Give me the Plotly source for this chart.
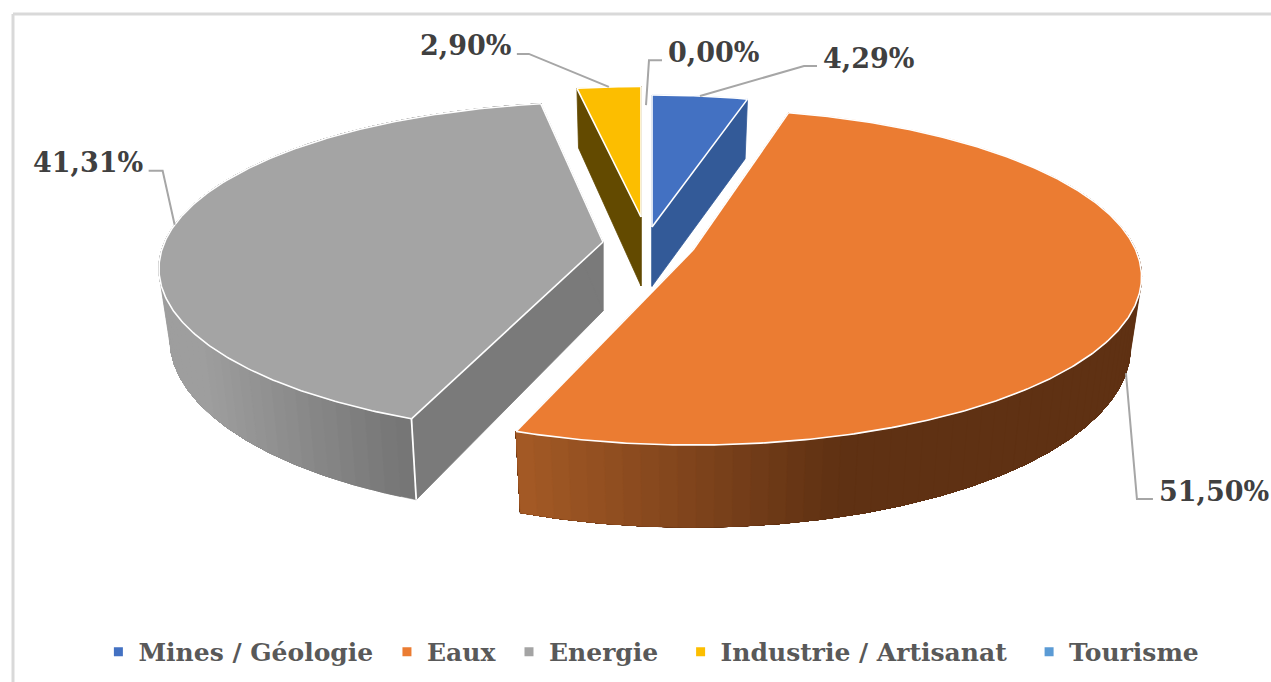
import math
import plotly.graph_objects as go

categories = ["Mines / Géologie", "Eaux", "Energie", "Industrie / Artisanat", "Tourisme"]
shares = [4.29, 51.50, 41.31, 2.90, 0.00]
labels = ["4,29%", "51,50%", "41,31%", "2,90%", "0,00%"]

top_colors = ["#4371c2", "#eb7c32", "#a4a4a4", "#fcbe00", "#5b9bd5"]
cut_colors = ["#335a98", "#8a4a1c", "#7a7a7a", "#634a00", "#3c6d9a"]
wall_near = [(51, 90, 152), (166, 91, 38), (118, 118, 118), (99, 74, 0), (60, 109, 154)]
wall_far = [(51, 90, 152), (95, 49, 19), (158, 158, 158), (99, 74, 0), (60, 109, 154)]
legend_pad = [1, 1, 2, 2, 0]   # non-breaking spaces after a legend entry

# Projection of the tilted pie onto the page (page pixels on the hidden axes)
W, H = 1271, 682
R, PERSP, TILT, DEPTH, TAPER = 445.0, 0.16, 0.37, 0.155, 0.975
apex = [(652, 227), (693, 250), (603, 242), (641, 217), (646, 240)]
twist = [0.0, -1.0, 1.0, 0.0, 0.0]      # degrees, per slice
scale = [0.93, 0.995, 0.985, 0.92, 0.95]    # radius, per slice
serif = "DejaVu Serif"
gray_text = "#404040"


def project(i, t, z=0.0):
    t = t + math.radians(twist[i])
    X, Y = math.sin(t), -math.cos(t)
    w = R / (1 - PERSP * Y)
    cx, cy = apex[i]
    r = scale[i]
    return (cx + r * X * w * (1 - (1 - TAPER) * z), cy + r * TILT * Y * w + DEPTH * w * z)


def mix(a, b, f):
    f = max(0, min(1, f))
    return "rgb(%d,%d,%d)" % tuple(round(a[k] + (b[k] - a[k]) * f) for k in range(3))


fig = go.Figure()


def poly(pts, fill, line=None, lw=0.0):
    fig.add_trace(go.Scatter(
        x=[p[0] for p in pts] + [pts[0][0]], y=[p[1] for p in pts] + [pts[0][1]],
        mode="lines", fill="toself", fillcolor=fill,
        line=dict(color=line or fill, width=lw), hoverinfo="skip", showlegend=False))


def stroke(pts, color="white", lw=1.6):
    fig.add_trace(go.Scatter(x=[p[0] for p in pts], y=[p[1] for p in pts], mode="lines",
                             line=dict(color=color, width=lw), hoverinfo="skip", showlegend=False))


total = sum(shares)
start = 0.0
spans = []
for v in shares:
    a = start / total * 2 * math.pi
    start += v
    spans.append((a, start / total * 2 * math.pi))

for i, (a0, a1) in enumerate(spans):
    if shares[i] == 0:
        continue
    n = max(3, int(math.degrees(a1 - a0) / 2))
    fine = 4
    ts = [a0 + (a1 - a0) * k / (n * fine) for k in range(n * fine + 1)]
    ax, ay = apex[i]
    base = (ax, ay + DEPTH * R * (0.86 if i == 0 else 1.0))
    # cut faces
    for t in (a0, a1):
        poly([(ax, ay), project(i, t), project(i, t, 1), base], cut_colors[i], lw=0.8)
    # outer wall as a horizontal gradient: each band runs on to the far end of the wall,
    # and the next band is painted over it, so that no seams show
    for k in range(n):
        arc = ts[k * fine:]
        if -math.cos(arc[0] + math.radians(twist[i])) < -0.5:
            continue
        p = project(i, arc[0])
        if i == 1:
            col = mix(wall_near[i], wall_far[i], (p[0] - ax + 175) / 330)
        elif i == 2:
            col = mix(wall_far[i], wall_near[i], (p[0] - ax + 400) / 200)
        else:
            col = mix(wall_near[i], wall_far[i], 0)
        poly([project(i, t) for t in arc] + [project(i, t, 1) for t in reversed(arc)], col, lw=0.5)
    # top face
    rim = [project(i, t) for t in ts]
    poly([(ax, ay)] + rim, top_colors[i], lw=0.5)
    # white highlights
    stroke(rim, lw=1.6)
    stroke([(ax, ay), rim[0]], lw=1.6)
    stroke([(ax, ay), rim[-1]], lw=1.6)
    if i == 2:
        stroke([rim[0], project(i, a0, 1)], lw=1.8)

# Leader lines: start on the slice at its mid angle, then an elbow to the label
elbows = [(104, -30, 13), (11, 126, 16), (-12, -54, -14), (-80, -33, -12), (3, -45, 13)]
depths = [0, 1, 0, 0, 0]
aligns = ["left", "left", "right", "right", "left"]
for i, (a0, a1) in enumerate(spans):
    mid = (a0 + a1) / 2 if shares[i] else 2 * math.pi
    p0 = project(i, mid, depths[i])
    ex, ey, tail = elbows[i]
    p1 = (p0[0] + ex, p0[1] + ey)
    p2 = (p1[0] + tail, p1[1])
    stroke([p0, p1, p2], color="#a6a6a6", lw=2)
    fig.add_annotation(x=p2[0] + (4 if tail > 0 else -4), y=p2[1] - 8, text="<b>%s</b>" % labels[i], showarrow=False,
                       xanchor=aligns[i], yanchor="middle",
                       font=dict(family=serif, size=27, color=gray_text))

# Legend entries
for c, col, pad in zip(categories, top_colors, legend_pad):
    fig.add_trace(go.Scatter(x=[None], y=[None], mode="markers", name=c + "\u00a0" * pad,
                             marker=dict(symbol="square", size=9, color=col)))

fig.update_layout(
    width=W, height=H, margin=dict(l=0, r=0, t=0, b=0), autosize=False,
    paper_bgcolor="white", plot_bgcolor="white",
    xaxis=dict(range=[0, W], visible=False, fixedrange=True),
    yaxis=dict(range=[H, 0], visible=False, fixedrange=True),
    legend=dict(orientation="h", x=0.5125, xanchor="center", y=0.044, yanchor="middle",
                font=dict(family=serif, size=25, color="#595959", weight="bold"),
                itemwidth=30, traceorder="normal", bgcolor="rgba(0,0,0,0)"),
    shapes=[
        dict(type="line", xref="paper", yref="paper", x0=13 / W, x1=1, y0=1 - 14 / H, y1=1 - 14 / H,
             line=dict(color="#d9d9d9", width=3)),
        dict(type="line", xref="paper", yref="paper", x0=13 / W, x1=13 / W, y0=0, y1=1 - 14 / H,
             line=dict(color="#d9d9d9", width=3)),
    ],
)
fig.write_html("out.html", config=dict(displayModeBar=False),
               post_script="document.body.style.margin='0';document.body.style.overflow='hidden';")
